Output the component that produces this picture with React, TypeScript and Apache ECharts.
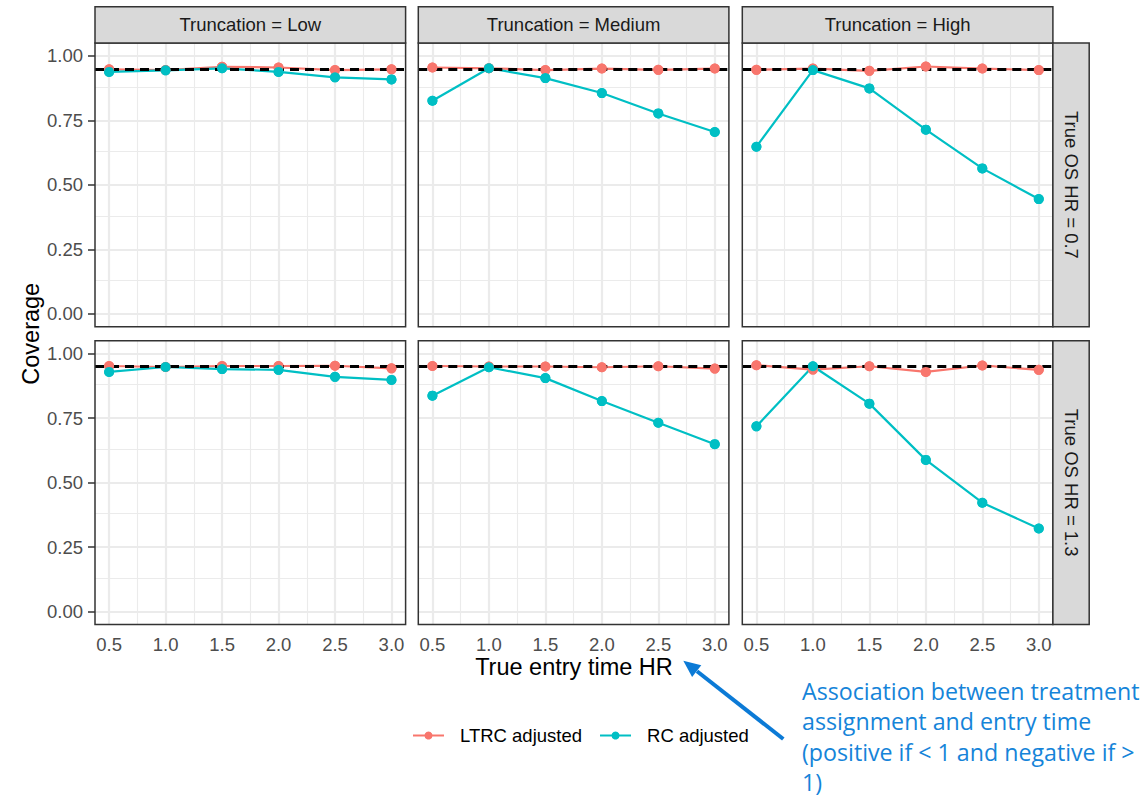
import React, { useEffect, useRef } from "react";
import * as echarts from "echarts";

// True entry-time hazard ratios on the x axis
const entryHR = [0.5, 1.0, 1.5, 2.0, 2.5, 3.0];
const xMinor = [0.75, 1.25, 1.75, 2.25, 2.75];
const yTicks = [0, 0.25, 0.5, 0.75, 1];
const yMinor = [0.125, 0.375, 0.625, 0.875];
const nominalCoverage = 0.95;

const truncationLabels = ["Truncation = Low", "Truncation = Medium", "Truncation = High"];
const osLabels = ["True OS HR = 0.7", "True OS HR = 1.3"];
const seriesNames = ["LTRC adjusted", "RC adjusted"];

// Coverage, true OS HR = 0.7
const ltrcLow07 = [0.948, 0.945, 0.958, 0.955, 0.945, 0.948];
const rcLow07 = [0.938, 0.944, 0.952, 0.938, 0.917, 0.909];
const ltrcMed07 = [0.955, 0.952, 0.945, 0.951, 0.946, 0.951];
const rcMed07 = [0.826, 0.952, 0.914, 0.856, 0.777, 0.705];
const ltrcHigh07 = [0.946, 0.951, 0.942, 0.959, 0.951, 0.945];
const rcHigh07 = [0.648, 0.945, 0.874, 0.714, 0.564, 0.445];

// Coverage, true OS HR = 1.3
const ltrcLow13 = [0.952, 0.948, 0.952, 0.952, 0.953, 0.943];
const rcLow13 = [0.929, 0.948, 0.94, 0.937, 0.91, 0.898];
const ltrcMed13 = [0.952, 0.95, 0.95, 0.947, 0.951, 0.942];
const rcMed13 = [0.837, 0.947, 0.905, 0.816, 0.732, 0.649];
const ltrcHigh13 = [0.955, 0.938, 0.951, 0.929, 0.954, 0.937];
const rcHigh13 = [0.718, 0.951, 0.806, 0.588, 0.422, 0.322];

const annotationLines = [
  "Association between treatment",
  "assignment and entry time",
  "(positive if < 1 and negative if >",
  "1)",
];

const panels = [
  { row: 0, col: 0, ltrc: ltrcLow07, rc: rcLow07 },
  { row: 0, col: 1, ltrc: ltrcMed07, rc: rcMed07 },
  { row: 0, col: 2, ltrc: ltrcHigh07, rc: rcHigh07 },
  { row: 1, col: 0, ltrc: ltrcLow13, rc: rcLow13 },
  { row: 1, col: 1, ltrc: ltrcMed13, rc: rcMed13 },
  { row: 1, col: 2, ltrc: ltrcHigh13, rc: rcHigh13 },
];

const FONT = '"Liberation Sans", Arial, Helvetica, sans-serif';
const RED = "#F8766D";
const TEAL = "#00BFC4";
const BORDER = "#333333";
const GRID_LINE = "#EBEBEB";

const colLeft = [95, 418.3, 742.3];
const panelW = 310.6;
const rowTop = [43, 340.7];
const panelH = 283.8;
const stripSize = 36.3;

function buildOption() {
  const grid: any[] = [];
  const xAxis: any[] = [];
  const yAxis: any[] = [];
  const series: any[] = [];
  const graphic: any[] = [];

  panels.forEach((p, i) => {
    const left = colLeft[p.col];
    const top = rowTop[p.row];
    grid.push({
      left,
      top,
      width: panelW,
      height: panelH,
      show: true,
      backgroundColor: "#ffffff",
      borderWidth: 0,
      containLabel: false,
    });
    const bottomRow = p.row === 1;
    const leftCol = p.col === 0;
    xAxis.push({
      type: "value",
      gridIndex: i,
      min: 0.375,
      max: 3.125,
      axisLine: { show: false },
      splitLine: { show: false },
      axisTick: {
        show: bottomRow,
        customValues: entryHR,
        length: 7,
        lineStyle: { color: BORDER, width: 1.5 },
      },
      axisLabel: {
        show: bottomRow,
        customValues: entryHR,
        formatter: (v: number) => v.toFixed(1),
        color: "#4D4D4D",
        fontFamily: FONT,
        fontSize: 18.5,
        margin: 10,
      },
    });
    yAxis.push({
      type: "value",
      gridIndex: i,
      min: -0.05,
      max: 1.05,
      axisLine: { show: false },
      splitLine: { show: false },
      axisTick: {
        show: leftCol,
        customValues: yTicks,
        length: 7,
        lineStyle: { color: BORDER, width: 1.5 },
      },
      axisLabel: {
        show: leftCol,
        customValues: yTicks,
        formatter: (v: number) => v.toFixed(2),
        color: "#4D4D4D",
        fontFamily: FONT,
        fontSize: 18.5,
        margin: 12,
      },
    });

    // panel grid lines
    const majorStyle = { color: GRID_LINE, width: 2.2, type: "solid" };
    const minorStyle = { color: GRID_LINE, width: 1.1, type: "solid" };
    series.push({
      type: "line",
      xAxisIndex: i,
      yAxisIndex: i,
      data: [],
      silent: true,
      z: 1,
      markLine: {
        silent: true,
        z: 1,
        symbol: ["none", "none"],
        label: { show: false },
        emphasis: { disabled: true },
        data: [
          ...yMinor.map((v) => ({ yAxis: v, lineStyle: minorStyle })),
          ...xMinor.map((v) => ({ xAxis: v, lineStyle: minorStyle })),
          ...yTicks.map((v) => ({ yAxis: v, lineStyle: majorStyle })),
          ...entryHR.map((v) => ({ xAxis: v, lineStyle: majorStyle })),
        ],
      },
    });

    // coverage lines
    [p.ltrc, p.rc].forEach((vals, k) => {
      const color = k === 0 ? RED : TEAL;
      series.push({
        type: "line",
        name: seriesNames[k],
        xAxisIndex: i,
        yAxisIndex: i,
        data: entryHR.map((x, j) => [x, vals[j]]),
        symbol: "circle",
        symbolSize: 10,
        showSymbol: true,
        silent: true,
        z: 2,
        lineStyle: { color, width: 2.2 },
        itemStyle: { color },
        emphasis: { disabled: true },
      });
    });

    // nominal 95% coverage
    series.push({
      type: "line",
      xAxisIndex: i,
      yAxisIndex: i,
      data: [],
      silent: true,
      z: 3,
      markLine: {
        silent: true,
        z: 3,
        symbol: ["none", "none"],
        label: { show: false },
        emphasis: { disabled: true },
        lineStyle: { color: "#000000", width: 3, type: [9, 6] },
        data: [{ yAxis: nominalCoverage }],
      },
    });

    // points on top
    [p.ltrc, p.rc].forEach((vals, k) => {
      const color = k === 0 ? RED : TEAL;
      series.push({
        type: "scatter",
        name: seriesNames[k] + " points",
        xAxisIndex: i,
        yAxisIndex: i,
        data: entryHR.map((x, j) => [x, vals[j]]),
        symbol: "circle",
        symbolSize: 10,
        silent: true,
        z: 4,
        itemStyle: { color, opacity: 1 },
        emphasis: { disabled: true },
      });
    });

    // panel border
    graphic.push({
      type: "rect",
      z: 100,
      silent: true,
      shape: { x: left, y: top, width: panelW, height: panelH },
      style: { fill: "none", stroke: BORDER, lineWidth: 1.5 },
    });
  });

  // column strips
  truncationLabels.forEach((label, c) => {
    graphic.push({
      type: "rect",
      z: 100,
      silent: true,
      shape: { x: colLeft[c], y: rowTop[0] - stripSize, width: panelW, height: stripSize },
      style: { fill: "#D9D9D9", stroke: BORDER, lineWidth: 1.5 },
    });
    graphic.push({
      type: "text",
      z: 101,
      silent: true,
      x: colLeft[c] + panelW / 2,
      y: rowTop[0] - stripSize / 2,
      style: {
        text: label,
        fill: "#1A1A1A",
        font: `18.5px ${FONT}`,
        align: "center",
        verticalAlign: "middle",
      },
    });
  });

  // row strips
  const stripX = colLeft[2] + panelW;
  osLabels.forEach((label, r) => {
    graphic.push({
      type: "rect",
      z: 100,
      silent: true,
      shape: { x: stripX, y: rowTop[r], width: stripSize, height: panelH },
      style: { fill: "#D9D9D9", stroke: BORDER, lineWidth: 1.5 },
    });
    graphic.push({
      type: "text",
      z: 101,
      silent: true,
      x: stripX + stripSize / 2,
      y: rowTop[r] + panelH / 2,
      rotation: -Math.PI / 2,
      style: {
        text: label,
        fill: "#1A1A1A",
        font: `18.5px ${FONT}`,
        align: "center",
        verticalAlign: "middle",
      },
    });
  });

  // axis titles
  graphic.push({
    type: "text",
    z: 101,
    silent: true,
    x: colLeft[0] + (colLeft[2] + panelW - colLeft[0]) / 2,
    y: 667,
    style: {
      text: "True entry time HR",
      fill: "#000000",
      font: `23.5px ${FONT}`,
      align: "center",
      verticalAlign: "middle",
    },
  });
  graphic.push({
    type: "text",
    z: 101,
    silent: true,
    x: 31,
    y: (rowTop[0] + rowTop[1] + panelH) / 2,
    rotation: Math.PI / 2,
    style: {
      text: "Coverage",
      fill: "#000000",
      font: `23.5px ${FONT}`,
      align: "center",
      verticalAlign: "middle",
    },
  });

  // callout
  annotationLines.forEach((line, k) => {
    graphic.push({
      type: "text",
      z: 101,
      silent: true,
      x: 802,
      y: 691 + k * 30.4,
      style: {
        text: line,
        fill: "#1584D9",
        font: `23.2px "Open Sans", "Noto Sans", sans-serif`,
        align: "left",
        verticalAlign: "middle",
      },
    });
  });
  graphic.push({
    type: "line",
    z: 101,
    silent: true,
    shape: { x1: 783.3, y1: 739, x2: 697, y2: 671.2 },
    style: { stroke: "#0B7AD6", lineWidth: 4, lineCap: "butt" },
  });
  graphic.push({
    type: "polygon",
    z: 101,
    silent: true,
    shape: {
      points: [
        [683.3, 660.7],
        [701.3, 665.3],
        [692.1, 677.1],
      ],
    },
    style: { fill: "#0B7AD6" },
  });

  return {
    animation: false,
    backgroundColor: "#ffffff",
    grid,
    xAxis,
    yAxis,
    series,
    graphic,
    legend: {
      data: seriesNames,
      left: 412,
      top: 726,
      orient: "horizontal",
      padding: 0,
      itemWidth: 31,
      itemHeight: 10,
      itemGap: 17,
      selectedMode: false,
      textStyle: {
        fontFamily: FONT,
        fontSize: 18.5,
        color: "#000000",
        padding: [0, 0, 0, 11],
      },
    },
  };
}

export default function App() {
  const ref = useRef<HTMLDivElement>(null);
  useEffect(() => {
    if (!ref.current) return;
    const chart = echarts.init(ref.current, undefined, { renderer: "svg" });
    chart.setOption(buildOption() as any);
    return () => chart.dispose();
  }, []);
  return (
    <div
      ref={ref}
      style={{ position: "fixed", left: 0, top: 0, width: 1147, height: 797 }}
    />
  );
}
